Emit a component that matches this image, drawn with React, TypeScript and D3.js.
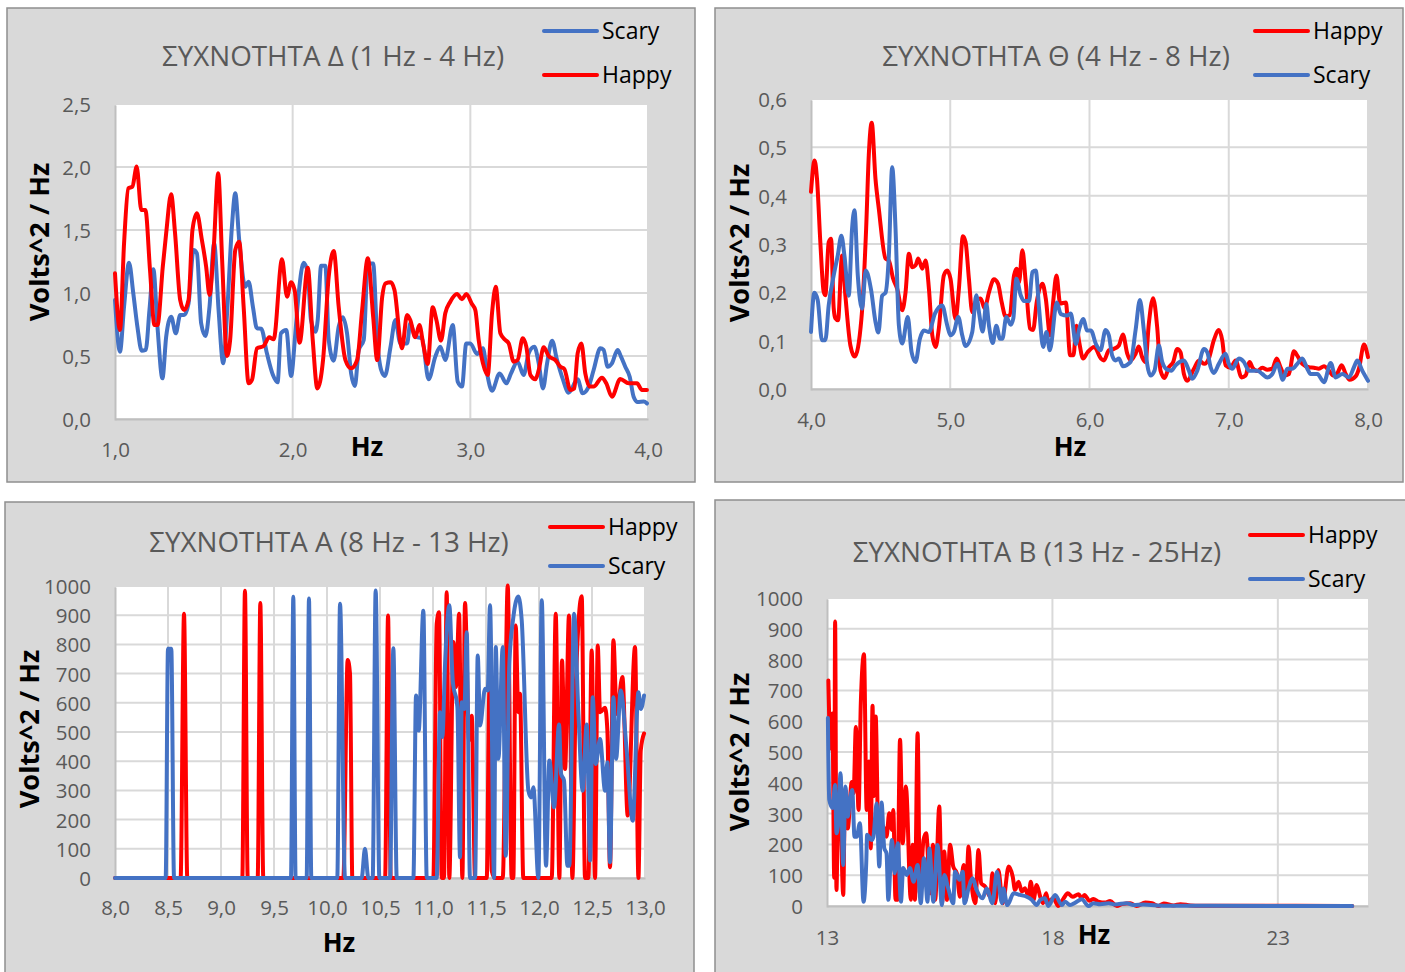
import { useEffect, useRef } from "react";
import * as d3 from "d3";

// [Hz, Volts^2/Hz]
const deltaHappy = [[1,1.156],[1.028,.706],[1.051,1.394],[1.075,1.831],[1.098,1.844],[1.122,2.003],[1.148,1.659],[1.171,1.659],[1.197,1.183],[1.222,.746],[1.239,.746],[1.269,1.209],[1.288,1.474],[1.316,1.783],[1.338,1.474],[1.367,.944],[1.389,.865],[1.414,.944],[1.436,1.5],[1.461,1.632],[1.489,1.421],[1.513,1.209],[1.532,.984],[1.555,1.341],[1.581,1.95],[1.603,1.262],[1.63,.5],[1.648,.627],[1.677,1.341],[1.699,1.407],[1.724,.892],[1.752,.283],[1.771,.31],[1.799,.561],[1.836,.579],[1.868,.648],[1.893,.632],[1.94,1.267],[1.968,.971],[1.991,1.085],[2.011,1.024],[2.039,.606],[2.085,1.201],[2.113,.627],[2.139,.243],[2.171,.468],[2.203,1.13],[2.231,1.333],[2.259,.892],[2.297,.468],[2.329,.402],[2.363,.468],[2.391,.865],[2.423,1.275],[2.453,.812],[2.476,.468],[2.504,.971],[2.523,1.077],[2.551,1.085],[2.573,1.024],[2.615,.561],[2.644,.825],[2.662,.786],[2.69,.648],[2.713,.746],[2.737,.574],[2.76,.437],[2.788,.886],[2.809,.786],[2.835,.622],[2.859,.839],[2.887,.931],[2.925,.992],[2.953,.95],[2.977,.992],[3.009,.913],[3.028,.865],[3.047,.627],[3.071,.442],[3.098,.349],[3.122,.839],[3.143,1.05],[3.169,.68],[3.197,.627],[3.216,.6],[3.244,.455],[3.266,.468],[3.295,.64],[3.315,.574],[3.338,.349],[3.366,.315],[3.385,.389],[3.413,.569],[3.441,.5],[3.478,.468],[3.507,.415],[3.529,.397],[3.563,.23],[3.585,.243],[3.604,.521],[3.625,.6],[3.647,.362],[3.672,.257],[3.694,.257],[3.741,.328],[3.765,.283],[3.797,.177],[3.844,.317],[3.891,.283],[3.938,.283],[3.966,.23],[3.994,.23]];
const deltaScary = [[1,.944],[1.028,.534],[1.051,.892],[1.079,1.241],[1.103,.997],[1.126,.733],[1.15,.542],[1.173,.548],[1.194,.865],[1.216,1.188],[1.239,.733],[1.267,.323],[1.288,.653],[1.316,.812],[1.342,.68],[1.367,.825],[1.389,.825],[1.414,.918],[1.442,1.341],[1.461,1.315],[1.485,.759],[1.509,.659],[1.532,.892],[1.558,1.394],[1.583,.865],[1.609,.442],[1.633,.892],[1.658,1.526],[1.677,1.791],[1.699,1.421],[1.733,1.05],[1.752,1.09],[1.776,.892],[1.799,.72],[1.823,.717],[1.855,.521],[1.889,.349],[1.915,.291],[1.934,.68],[1.964,.706],[1.991,.341],[2.015,.68],[2.034,.997],[2.062,1.241],[2.085,1.156],[2.103,.786],[2.128,.693],[2.141,.786],[2.16,1.217],[2.184,1.217],[2.203,.627],[2.231,.463],[2.259,.733],[2.282,.807],[2.306,.68],[2.329,.362],[2.35,.262],[2.372,.548],[2.4,.627],[2.423,1.235],[2.453,1.235],[2.476,.627],[2.498,.389],[2.519,.341],[2.551,.574],[2.578,.786],[2.606,.6],[2.644,.6],[2.662,.759],[2.69,.653],[2.728,.64],[2.765,.315],[2.803,.495],[2.831,.574],[2.859,.468],[2.901,.746],[2.929,.296],[2.953,.257],[2.977,.6],[3,.6],[3.038,.516],[3.071,.561],[3.094,.362],[3.122,.225],[3.165,.362],[3.203,.283],[3.229,.362],[3.266,.455],[3.3,.349],[3.328,.521],[3.36,.574],[3.385,.442],[3.409,.243],[3.432,.442],[3.46,.622],[3.488,.468],[3.522,.31],[3.553,.209],[3.604,.315],[3.632,.204],[3.666,.257],[3.694,.389],[3.732,.561],[3.75,.548],[3.773,.415],[3.797,.442],[3.829,.548],[3.848,.495],[3.872,.415],[3.897,.336],[3.919,.177],[3.942,.135],[3.976,.138],[3.994,.124]];

const thetaHappy = [[4,.408],[4.026,.473],[4.043,.435],[4.067,.304],[4.091,.201],[4.103,.194],[4.127,.304],[4.144,.311],[4.163,.167],[4.175,.146],[4.194,.142],[4.223,.276],[4.247,.193],[4.283,.09],[4.314,.067],[4.362,.145],[4.396,.332],[4.415,.484],[4.436,.551],[4.463,.435],[4.487,.373],[4.535,.27],[4.559,.266],[4.59,.228],[4.619,.207],[4.655,.163],[4.679,.2],[4.703,.28],[4.727,.252],[4.751,.256],[4.77,.27],[4.799,.249],[4.823,.266],[4.847,.207],[4.871,.111],[4.894,.087],[4.918,.125],[4.954,.235],[4.978,.245],[5.002,.228],[5.038,.145],[5.062,.207],[5.091,.316],[5.11,.304],[5.134,.228],[5.158,.159],[5.182,.18],[5.218,.187],[5.247,.167],[5.278,.2],[5.314,.227],[5.343,.218],[5.369,.18],[5.398,.15],[5.427,.153],[5.458,.235],[5.477,.249],[5.494,.221],[5.518,.287],[5.542,.221],[5.573,.125],[5.595,.122],[5.621,.18],[5.662,.218],[5.686,.187],[5.717,.111],[5.739,.18],[5.763,.235],[5.789,.177],[5.83,.179],[5.861,.07],[5.885,.07],[5.906,.131],[5.926,.097],[5.954,.063],[5.986,.076],[6.034,.087],[6.082,.063],[6.103,.059],[6.139,.08],[6.175,.083],[6.211,.09],[6.24,.113],[6.271,.073],[6.295,.059],[6.331,.073],[6.354,.088],[6.378,.066],[6.402,.056],[6.426,.135],[6.457,.188],[6.486,.128],[6.51,.038],[6.539,.023],[6.57,.045],[6.601,.056],[6.63,.083],[6.654,.076],[6.678,.031],[6.702,.017],[6.75,.042],[6.786,.059],[6.826,.052],[6.857,.063],[6.893,.101],[6.929,.122],[6.953,.101],[6.977,.049],[7.013,.044],[7.049,.059],[7.092,.024],[7.121,.028],[7.15,.056],[7.169,.045],[7.205,.037],[7.241,.044],[7.277,.04],[7.313,.042],[7.344,.063],[7.372,.045],[7.401,.028],[7.432,.031],[7.468,.078],[7.492,.069],[7.528,.052],[7.576,.045],[7.612,.044],[7.648,.042],[7.684,.047],[7.72,.038],[7.749,.028],[7.78,.033],[7.811,.049],[7.84,.031],[7.868,.019],[7.911,.026],[7.935,.042],[7.971,.092],[8,.066]];
const thetaScary = [[4,.118],[4.024,.199],[4.048,.184],[4.079,.101],[4.103,.101],[4.127,.173],[4.163,.235],[4.192,.276],[4.218,.317],[4.24,.276],[4.271,.193],[4.295,.332],[4.312,.37],[4.336,.235],[4.367,.166],[4.393,.245],[4.432,.204],[4.463,.139],[4.484,.117],[4.511,.193],[4.535,.199],[4.559,.276],[4.583,.459],[4.607,.332],[4.631,.132],[4.655,.094],[4.695,.149],[4.722,.077],[4.751,.056],[4.782,.104],[4.811,.121],[4.847,.118],[4.89,.156],[4.942,.173],[4.978,.132],[5.002,.111],[5.026,.118],[5.058,.149],[5.086,.111],[5.11,.089],[5.158,.118],[5.187,.194],[5.206,.159],[5.233,.119],[5.259,.176],[5.278,.131],[5.305,.095],[5.331,.131],[5.357,.104],[5.374,.104],[5.403,.149],[5.434,.133],[5.453,.146],[5.475,.228],[5.506,.194],[5.53,.182],[5.566,.182],[5.59,.242],[5.614,.245],[5.638,.166],[5.667,.087],[5.691,.118],[5.715,.08],[5.765,.179],[5.794,.155],[5.842,.152],[5.866,.156],[5.902,.093],[5.926,.124],[5.957,.145],[5.981,.121],[6.01,.121],[6.046,.093],[6.079,.08],[6.115,.122],[6.139,.111],[6.163,.069],[6.187,.059],[6.211,.063],[6.24,.047],[6.295,.056],[6.331,.122],[6.362,.184],[6.39,.122],[6.414,.052],[6.438,.028],[6.467,.038],[6.498,.09],[6.522,.056],[6.558,.04],[6.587,.038],[6.618,.049],[6.678,.059],[6.714,.038],[6.738,.021],[6.774,.038],[6.822,.083],[6.846,.076],[6.87,.045],[6.893,.033],[6.929,.052],[6.977,.073],[7.001,.052],[7.025,.042],[7.073,.063],[7.109,.056],[7.145,.038],[7.205,.038],[7.241,.031],[7.277,.024],[7.313,.031],[7.349,.052],[7.389,.019],[7.42,.042],[7.456,.042],[7.492,.052],[7.528,.063],[7.564,.042],[7.588,.031],[7.636,.031],[7.684,.014],[7.732,.054],[7.768,.024],[7.816,.031],[7.863,.024],[7.899,.045],[7.923,.059],[7.959,.038],[8,.017]];

const alphaHappy = [[8,0],[8.619,0],[8.651,905],[8.682,0],[9.201,0],[9.226,984],[9.252,0],[9.346,0],[9.371,942],[9.399,0],[10.154,0],[10.195,747],[10.217,700],[10.239,0],[10.548,0],[10.576,899],[10.601,0],[11.003,0],[11.035,871],[11.057,910],[11.082,0],[11.104,0],[11.129,979],[11.154,0],[11.192,808],[11.217,654],[11.246,905],[11.277,0],[11.302,942],[11.34,471],[11.365,556],[11.397,0],[11.507,0],[11.532,642],[11.554,25],[11.585,0],[11.658,0],[11.705,1002],[11.742,0],[11.758,0],[11.78,865],[11.805,568],[11.821,631],[11.852,0],[12.12,0],[12.158,905],[12.192,0],[12.217,745],[12.246,373],[12.283,899],[12.315,0],[12.349,677],[12.403,965],[12.434,0],[12.466,0],[12.497,779],[12.529,0],[12.554,796],[12.576,568],[12.623,583],[12.645,505],[12.67,37],[12.702,814],[12.733,562],[12.787,688],[12.837,214],[12.906,791],[12.938,0],[12.96,437],[12.991,495]];
const alphaScary = [[8,0],[8.478,0],[8.5,785],[8.531,785],[8.557,0],[9.66,0],[9.682,963],[9.704,0],[9.808,0],[9.83,957],[9.852,0],[10.097,0],[10.123,939],[10.17,0],[10.327,0],[10.358,100],[10.39,0],[10.431,0],[10.459,985],[10.494,0],[10.595,0],[10.626,787],[10.658,0],[10.815,0],[10.84,625],[10.865,505],[10.909,915],[10.941,0],[11.035,0],[11.066,568],[11.088,483],[11.114,733],[11.154,934],[11.186,677],[11.23,585],[11.255,71],[11.271,602],[11.296,579],[11.318,842],[11.349,0],[11.397,0],[11.422,762],[11.444,522],[11.491,648],[11.516,642],[11.538,934],[11.576,0],[11.592,791],[11.617,408],[11.658,791],[11.686,76],[11.72,733],[11.758,893],[11.805,964],[11.837,882],[11.9,299],[11.925,276],[11.947,311],[11.994,0],[12.026,951],[12.066,42],[12.098,402],[12.142,242],[12.189,526],[12.208,357],[12.236,334],[12.268,42],[12.286,42],[12.331,905],[12.372,562],[12.412,299],[12.45,526],[12.482,60],[12.507,619],[12.535,390],[12.576,476],[12.623,299],[12.645,396],[12.67,54],[12.702,619],[12.727,408],[12.771,642],[12.827,437],[12.884,196],[12.938,636],[12.96,579],[12.991,625]];

const betaHappy = [[13.03,732],[13.08,511],[13.12,625],[13.16,92],[13.18,924],[13.21,52],[13.25,377],[13.3,301],[13.36,36],[13.4,377],[13.46,252],[13.55,403],[13.59,366],[13.64,581],[13.7,312],[13.75,659],[13.82,817],[13.88,312],[13.93,469],[13.97,187],[14.01,650],[14.04,357],[14.08,615],[14.14,225],[14.25,258],[14.32,225],[14.38,301],[14.44,247],[14.47,312],[14.52,20],[14.56,20],[14.62,540],[14.68,204],[14.75,388],[14.86,20],[14.9,199],[14.95,20],[15.01,561],[15.06,41],[15.14,214],[15.2,236],[15.29,41],[15.35,199],[15.4,20],[15.49,323],[15.55,9],[15.6,177],[15.66,20],[15.73,199],[15.8,128],[15.88,106],[15.95,30],[16.03,133],[16.08,20],[16.14,193],[16.19,95],[16.29,9],[16.36,182],[16.42,74],[16.51,63],[16.62,30],[16.67,106],[16.73,9],[16.8,117],[16.9,9],[17.03,128],[17.12,95],[17.17,52],[17.25,79],[17.32,47],[17.39,58],[17.47,30],[17.52,79],[17.58,20],[17.65,68],[17.73,30],[17.79,9],[17.86,41],[17.91,14],[18.02,25],[18.13,0],[18.25,25],[18.34,41],[18.45,30],[18.58,38],[18.65,25],[18.71,36],[18.82,17],[18.91,23],[19.02,14],[19.17,11],[19.28,16],[19.43,0],[19.54,6],[19.73,9],[19.87,0],[20.06,11],[20.21,9],[20.35,0],[20.47,8],[20.69,2],[20.84,6],[21.06,2],[21.28,1],[21.95,1],[23.4,.5],[24.65,.3]];
const betaScary = [[13.02,610],[13.05,345],[13.12,318],[13.18,393],[13.21,236],[13.25,269],[13.3,431],[13.36,133],[13.41,388],[13.46,290],[13.51,345],[13.56,377],[13.61,225],[13.66,225],[13.73,269],[13.81,14],[13.87,139],[13.89,231],[13.99,214],[14.03,225],[14.1,333],[14.16,128],[14.21,336],[14.27,188],[14.32,171],[14.36,20],[14.44,214],[14.5,106],[14.57,204],[14.64,14],[14.69,123],[14.77,101],[14.84,123],[14.92,79],[15.01,133],[15.08,9],[15.15,155],[15.23,14],[15.27,187],[15.36,14],[15.45,198],[15.55,3],[15.6,101],[15.69,57],[15.8,9],[15.84,111],[15.94,85],[16.01,111],[16.05,9],[16.14,57],[16.23,90],[16.32,52],[16.45,25],[16.54,57],[16.67,9],[16.77,111],[16.88,9],[16.91,57],[17,3],[17.14,41],[17.28,36],[17.43,30],[17.54,20],[17.65,3],[17.73,20],[17.83,25],[17.91,0],[18.06,36],[18.21,3],[18.28,14],[18.39,3],[18.51,11],[18.65,22],[18.8,0],[18.91,9],[19.06,6],[19.25,9],[19.39,5],[19.65,9],[19.8,3],[20.02,5],[20.32,2],[20.69,1],[21.5,.5],[24.65,.3]];

const deltaXTicks = [1, 2, 3, 4];
const deltaYTicks = [0, 0.5, 1, 1.5, 2, 2.5];
const thetaXTicks = [4, 5, 6, 7, 8];
const thetaYTicks = [0, 0.1, 0.2, 0.3, 0.4, 0.5, 0.6];
const alphaXTicks = [8, 8.5, 9, 9.5, 10, 10.5, 11, 11.5, 12, 12.5, 13];
const betaXTicks = [13, 18, 23];
const powerTicks = [0, 100, 200, 300, 400, 500, 600, 700, 800, 900, 1000];

const HAPPY = "#FF0000";
const SCARY = "#4472C4";
const FONT = "'Open Sans', 'Noto Sans', sans-serif";

const comma = (d: number) => d3.format(".1f")(d).replace(".", ",");
const plain = (d: number) => d3.format("d")(d);

const charts = [
  {
    panel: [7, 8, 688, 474], plot: [115, 104, 648, 419], xPad: 23,
    title: "ΣΥΧΝΟΤΗΤΑ Δ (1 Hz - 4 Hz)", titleAt: [333, 55],
    xDomain: [1, 4], yDomain: [0, 2.5], xTicks: deltaXTicks, yTicks: deltaYTicks,
    xFormat: comma, yFormat: comma, hzAt: [367, 446], voltsAt: [38, 242],
    legend: [{ name: "Scary", data: deltaScary, color: SCARY }, { name: "Happy", data: deltaHappy, color: HAPPY }],
    legendAt: [544, 31, 44],
  },
  {
    panel: [715, 8, 688, 474], plot: [811, 99, 1368, 389], xPad: 23,
    title: "ΣΥΧΝΟΤΗΤΑ Θ (4 Hz - 8 Hz)", titleAt: [1056, 55],
    xDomain: [4, 8], yDomain: [0, 0.6], xTicks: thetaXTicks, yTicks: thetaYTicks,
    xFormat: comma, yFormat: comma, hzAt: [1070, 446], voltsAt: [738, 243],
    legend: [{ name: "Happy", data: thetaHappy, color: HAPPY }, { name: "Scary", data: thetaScary, color: SCARY }],
    legendAt: [1255, 31, 44],
  },
  {
    panel: [5, 502, 689, 480], plot: [115, 586, 645, 878], xPad: 22,
    title: "ΣΥΧΝΟΤΗΤΑ Α (8 Hz - 13 Hz)", titleAt: [329, 541],
    xDomain: [8, 13], yDomain: [0, 1000], xTicks: alphaXTicks, yTicks: powerTicks,
    xFormat: comma, yFormat: plain, hzAt: [339, 942], voltsAt: [28, 729],
    legend: [{ name: "Happy", data: alphaHappy, color: HAPPY }, { name: "Scary", data: alphaScary, color: SCARY }],
    legendAt: [550, 527, 39],
  },
  {
    panel: [715, 500, 700, 480], plot: [827, 598, 1368, 906], xPad: 24,
    title: "ΣΥΧΝΟΤΗΤΑ Β (13 Hz - 25Hz)", titleAt: [1037, 551],
    xDomain: [13, 25], yDomain: [0, 1000], xTicks: betaXTicks, yTicks: powerTicks,
    xFormat: plain, yFormat: plain, hzAt: [1094, 934], voltsAt: [738, 752],
    legend: [{ name: "Happy", data: betaHappy, color: HAPPY }, { name: "Scary", data: betaScary, color: SCARY }],
    legendAt: [1250, 535, 44],
  },
];

export default function App() {
  const ref = useRef<SVGSVGElement>(null);

  useEffect(() => {
    const svg = d3.select(ref.current);
    svg.selectAll("*").remove();
    svg.style("font-family", FONT);

    charts.forEach((c) => {
      const [left, top, right, bottom] = c.plot;
      const x = d3.scaleLinear().domain(c.xDomain).range([left, right]);
      const y = d3.scaleLinear().domain(c.yDomain).range([bottom, top]);
      const g = svg.append("g");

      g.append("rect")
        .attr("x", c.panel[0]).attr("y", c.panel[1])
        .attr("width", c.panel[2]).attr("height", c.panel[3])
        .attr("fill", "#D9D9D9").attr("stroke", "#8F8F8F").attr("stroke-width", 1.5);
      g.append("rect")
        .attr("x", left).attr("y", top)
        .attr("width", right - left).attr("height", bottom - top)
        .attr("fill", "#FFFFFF");

      // gridlines
      g.selectAll(".hgrid").data(c.yTicks).enter().append("line")
        .attr("x1", left).attr("x2", right)
        .attr("y1", (d) => y(d)).attr("y2", (d) => y(d))
        .attr("stroke", "#D9D9D9").attr("stroke-width", 2);
      g.selectAll(".vgrid").data(c.xTicks).enter().append("line")
        .attr("y1", top).attr("y2", bottom)
        .attr("x1", (d) => x(d)).attr("x2", (d) => x(d))
        .attr("stroke", "#D9D9D9").attr("stroke-width", 2);

      const xAxis = g.append("g")
        .attr("transform", `translate(0,${bottom})`)
        .call(d3.axisBottom(x).tickValues(c.xTicks).tickFormat(c.xFormat as any).tickSize(0).tickPadding(c.xPad));
      const yAxis = g.append("g")
        .attr("transform", `translate(${left},1)`)
        .call(d3.axisLeft(y).tickValues(c.yTicks).tickFormat(c.yFormat as any).tickSize(0).tickPadding(24));
      [xAxis, yAxis].forEach((a) => {
        a.selectAll("text").attr("fill", "#595959").style("font-size", "20.5px").style("font-family", FONT);
        a.select(".domain").attr("stroke", "#BFBFBF").attr("stroke-width", 2);
      });

      const line = d3.line<number[]>()
        .x((d) => x(d[0]))
        .y((d) => y(d[1]))
        .curve(d3.curveMonotoneX);
      c.legend.forEach((s) => {
        g.append("path")
          .attr("d", line(s.data))
          .attr("fill", "none")
          .attr("stroke", s.color)
          .attr("stroke-width", 4)
          .attr("stroke-linejoin", "round")
          .attr("stroke-linecap", "round");
      });

      g.append("text")
        .attr("x", c.titleAt[0]).attr("y", c.titleAt[1])
        .attr("text-anchor", "middle").attr("dominant-baseline", "central")
        .attr("fill", "#595959").style("font-size", "27.8px")
        .text(c.title);
      g.append("text")
        .attr("x", c.hzAt[0]).attr("y", c.hzAt[1])
        .attr("text-anchor", "middle").attr("dominant-baseline", "central")
        .attr("fill", "#000").style("font-size", "26px").style("font-weight", 700)
        .text("Hz");
      g.append("text")
        .attr("transform", `translate(${c.voltsAt[0]},${c.voltsAt[1]}) rotate(-90)`)
        .attr("text-anchor", "middle").attr("dominant-baseline", "central")
        .attr("fill", "#000").style("font-size", "27.2px").style("font-weight", 700)
        .text("Volts^2 / Hz");

      const [lx, ly, step] = c.legendAt;
      c.legend.forEach((s, i) => {
        g.append("line")
          .attr("x1", lx).attr("x2", lx + 53)
          .attr("y1", ly + i * step).attr("y2", ly + i * step)
          .attr("stroke", s.color).attr("stroke-width", 4).attr("stroke-linecap", "round");
        g.append("text")
          .attr("x", lx + 58).attr("y", ly + i * step - 1.5)
          .attr("dominant-baseline", "central")
          .attr("fill", "#000").style("font-size", "23px")
          .text(s.name);
      });
    });
  }, []);

  return (
    <svg
      ref={ref}
      width={1405}
      height={972}
      style={{ position: "absolute", left: 0, top: 0, display: "block", overflow: "hidden" }}
    />
  );
}
